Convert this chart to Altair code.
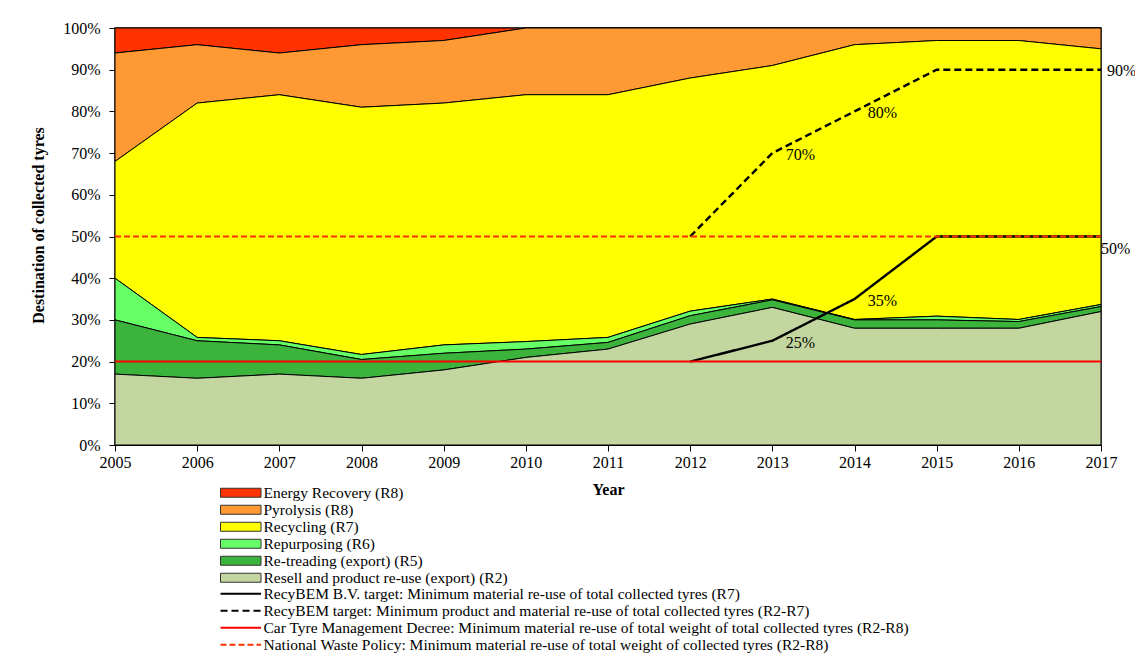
import altair as alt
import pandas as pd

# ---------------- data ----------------
years = list(range(2005, 2018))

categories = [
    "Energy Recovery (R8)",
    "Pyrolysis (R8)",
    "Recycling  (R7)",
    "Repurposing (R6)",
    "Re-treading (export) (R5)",
    " Resell and product re-use (export) (R2)",
]
cat_colors = ["#FF3300", "#FF9933", "#FFFF00", "#66FF66", "#3CB43C", "#C4D6A0"]

energy      = [6, 4, 6, 4, 3, 0, 0, 0, 0, 0, 0, 0, 0]
pyrolysis   = [26, 14, 10, 15, 15, 16, 16, 12, 9, 4, 3, 3, 5]
recycling   = [28, 56.2, 59, 59.3, 58, 59.2, 58.2, 55.9, 56, 65.9, 66.1, 66.9, 61.3]
repurposing = [10, 0.8, 1, 1.2, 2, 1.8, 1.2, 1.1, 0.2, 0.1, 0.9, 0.5, 0.5]
retreading  = [13, 9, 7, 4.5, 4, 2, 1.6, 2, 1.8, 2, 2, 1.6, 1.2]
resell      = [17, 16, 17, 16, 18, 21, 23, 29, 33, 28, 28, 28, 32]

line_names = [
    "RecyBEM B.V. target: Minimum material re-use of total collected tyres (R7)",
    "RecyBEM target: Minimum product and material  re-use of total collected tyres (R2-R7)",
    "Car Tyre Management Decree: Minimum material re-use of total weight of total collected tyres (R2-R8)",
    "National Waste Policy: Minimum material re-use of total weight of collected tyres (R2-R8)",
]
line_colors = ["#000000", "#000000", "#FF0000", "#FF3300"]
line_dashes = [[1, 0], [7, 4], [1, 0], [6, 3]]

target_years = [2012, 2013, 2014, 2015, 2016, 2017]
recybem_bv = [20, 25, 35, 50, 50, 50]
recybem = [50, 70, 80, 90, 90, 90]
decree = [20] * len(years)
policy = [50] * len(years)

label_years_mid = [2013, 2014, 2013, 2014]
label_values_mid = [25, 35, 70, 80]
label_texts_mid = ["25%", "35%", "70%", "80%"]
label_year_end = [2017]
label_value_90 = [90]
label_value_50 = [50]

# ---------------- tables ----------------
series = [energy, pyrolysis, recycling, repurposing, retreading, resell]
rows = []
for ci, (cat, vals) in enumerate(zip(categories, series)):
    for y, v in zip(years, vals):
        rows.append({"year": y, "share": v, "category": cat, "rank": len(categories) - 1 - ci})
area_df = pd.DataFrame(rows)

lrows = []
for y, v in zip(target_years, recybem_bv):
    lrows.append({"year": y, "value": v, "target": line_names[0]})
for y, v in zip(target_years, recybem):
    lrows.append({"year": y, "value": v, "target": line_names[1]})
black_df = pd.DataFrame(lrows)

rrows = []
for y, v in zip(years, decree):
    rrows.append({"year": y, "value": v, "target": line_names[2]})
for y, v in zip(years, policy):
    rrows.append({"year": y, "value": v, "target": line_names[3]})
red_df = pd.DataFrame(rrows)

mid_df = pd.DataFrame({"year": label_years_mid, "value": label_values_mid, "label": label_texts_mid})
l90_df = pd.DataFrame({"year": label_year_end, "value": label_value_90, "label": ["90%"]})
l50_df = pd.DataFrame({"year": label_year_end, "value": label_value_50, "label": ["50%"]})

FONT = "Liberation Serif"
LEG_FS = 15.5

x_enc = alt.X(
    "year:Q",
    scale=alt.Scale(domain=[2005, 2017], nice=False),
    axis=alt.Axis(
        values=years, format="d", title="Year", grid=False, labelFlush=False,
        tickSize=6, labelPadding=3, labelFontSize=16,
        titleFontSize=16, titleFontWeight="bold", titleY=36, titleBaseline="top",
    ),
)
y_scale = alt.Scale(domain=[0, 100], nice=False)
y_axis = alt.Axis(
    values=list(range(0, 101, 10)), labelExpr="datum.value + '%'",
    title="Destination of  collected tyres", grid=False, labelFlush=False,
    tickSize=6, labelPadding=9, labelFontSize=16,
    titleFontSize=16, titleFontWeight="bold",
    titleX=-77, titleY=197, titleBaseline="middle", titleAngle=-90,
)

stroke_scale = alt.Scale(domain=line_names, range=line_colors)
dash_scale = alt.Scale(domain=line_names, range=line_dashes)

line_legend = alt.Legend(
    title=None, orient="none", legendX=118, legendY=558,
    symbolType="M-4.5,0H4.5", symbolSize=81, symbolStrokeWidth=2,
    labelFont=FONT, labelFontSize=LEG_FS, labelColor="black", labelLimit=2000,
    labelOffset=15, rowPadding=0, padding=0,
)

areas = alt.Chart(area_df).mark_area(stroke="black", strokeWidth=1, strokeJoin="round").encode(
    x=x_enc,
    y=alt.Y("share:Q", stack="zero", scale=y_scale, axis=y_axis),
    fill=alt.Fill(
        "category:N",
        scale=alt.Scale(domain=categories, range=cat_colors),
        legend=alt.Legend(
            title=None, orient="none", legendX=118, legendY=457,
            symbolType="M-4.5,-1H4.5V1H-4.5Z", symbolSize=81,
            symbolStrokeColor="#333333", symbolStrokeWidth=1, symbolOpacity=1,
            labelFont=FONT, labelFontSize=LEG_FS, labelColor="black", labelLimit=2000,
            labelOffset=15, rowPadding=0, padding=0,
        ),
    ),
    order=alt.Order("rank:Q"),
)

black_lines = alt.Chart(black_df).mark_line(strokeWidth=2.4).encode(
    x="year:Q",
    y=alt.Y("value:Q", scale=y_scale),
    stroke=alt.Stroke("target:N", scale=stroke_scale, legend=line_legend),
    strokeDash=alt.StrokeDash("target:N", scale=dash_scale, legend=line_legend),
)

red_lines = alt.Chart(red_df).mark_line(strokeWidth=2).encode(
    x="year:Q",
    y=alt.Y("value:Q", scale=y_scale),
    stroke=alt.Stroke("target:N", scale=stroke_scale, legend=line_legend),
    strokeDash=alt.StrokeDash("target:N", scale=dash_scale, legend=line_legend),
)

mid_labels = alt.Chart(mid_df).mark_text(
    font=FONT, fontSize=16, color="black", dx=28, dy=2
).encode(x="year:Q", y=alt.Y("value:Q", scale=y_scale), text="label:N")

lab90 = alt.Chart(l90_df).mark_text(
    font=FONT, fontSize=16, color="black", align="left", dx=6, dy=1
).encode(x="year:Q", y=alt.Y("value:Q", scale=y_scale), text="label:N")

lab50 = alt.Chart(l50_df).mark_text(
    font=FONT, fontSize=16, color="black", align="left", dx=0, dy=12
).encode(x="year:Q", y=alt.Y("value:Q", scale=y_scale), text="label:N")

chart = alt.layer(areas, black_lines, red_lines, mid_labels, lab90, lab50).properties(
    width=986,
    height=417,
    autosize=alt.AutoSizeParams(type="none"),
    padding={"left": 107, "top": 20, "right": 34, "bottom": 210},
).configure_view(
    stroke="#222222", strokeWidth=1.5
).configure_axis(
    labelFont=FONT, titleFont=FONT, labelColor="black", titleColor="black",
    tickColor="black", domainColor="black",
).configure_legend(
    labelFont=FONT,
)

chart.save("out.html", embed_options={"renderer": "svg", "actions": False})
